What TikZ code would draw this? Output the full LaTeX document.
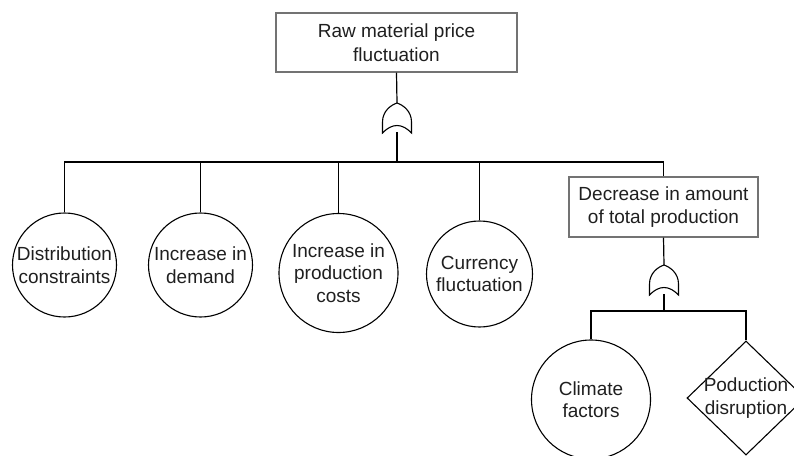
\documentclass[tikz,border=0pt]{standalone}
\usepackage{fontspec}
\setmainfont{Liberation Sans}
\usetikzlibrary{shapes.geometric}

\tikzset{
  wire/.style={draw=black, line width=1.2pt},
  eventbox/.style={draw=black!55, line width=1.2pt, rectangle, inner sep=0pt,
    align=center, text=black!88, font=\fontsize{19}{23.5}\selectfont},
  basic/.style={draw=black, line width=1.1pt, circle, inner sep=0pt,
    align=center, text=black!88, font=\fontsize{19}{22.5}\selectfont},
  undev/.style={draw=black, line width=1.1pt, diamond, inner sep=0pt},
  lbl/.style={align=center, text=black!88, inner sep=0pt,
    font=\fontsize{19}{22.5}\selectfont},
  orgate/.pic={
    \draw[line width=1.1pt]
      (-14.5,30) -- (-14.5,19)
      .. controls (-14.5,8) and (-6,2) .. (0,0)
      .. controls (6,2) and (14.5,8) .. (14.5,19)
      -- (14.5,30)
      .. controls (5,20) and (-5,20) .. cycle;
    \coordinate (-top) at (0,0);
    \coordinate (-bot) at (0,29);
  }
}

\begin{document}
\begin{tikzpicture}[x=1pt, y=-1pt]
  \useasboundingbox (0,0) rectangle (794,455);
  \clip (0,0) rectangle (794,455);

  % top event
  \node[eventbox, minimum width=241pt, minimum height=59pt] (top) at (396.5,42.5)
    {Raw material price\\fluctuation};
  \pic (g1) at (397,103) {orgate};
  \draw[wire] (top.south) -- (g1-top);

  % first level
  \coordinate (bus1) at (397,162);
  \draw[wire] (g1-bot) -- (bus1);

  \node[basic, minimum size=104pt] (dist) at (64.5,265) {Distribution\\constraints};
  \node[basic, minimum size=104pt] (dem) at (200.5,265) {Increase in\\demand};
  \node[basic, minimum size=119pt] (cost) at (338.5,273) {Increase in\\production\\costs};
  \node[basic, minimum size=106pt] (cur) at (479.5,274) {Currency\\fluctuation};
  \node[eventbox, minimum width=189pt, minimum height=60pt] (dec) at (663.5,207)
    {Decrease in amount\\of total production};

  \foreach \n in {dist,dem,cost,cur,dec}
    \draw[wire] (bus1) -| (\n.north);

  % second level
  \pic (g2) at (664,265) {orgate};
  \draw[wire] (dec.south) -- (g2-top);
  \coordinate (bus2) at (664,311);
  \draw[wire] (g2-bot) -- (bus2);

  \node[basic, minimum size=119pt] (clim) at (591,399.5) {Climate\\factors};
  \node[undev, minimum width=118pt, minimum height=114pt] (disr) at (746,398) {};
  \node[lbl] (disrtxt) at (disr.center) {Poduction\\disruption};

  \draw[wire] (bus2) -| (clim.north);
  \draw[wire] (bus2) -| (disr.north);
\end{tikzpicture}
\end{document}
